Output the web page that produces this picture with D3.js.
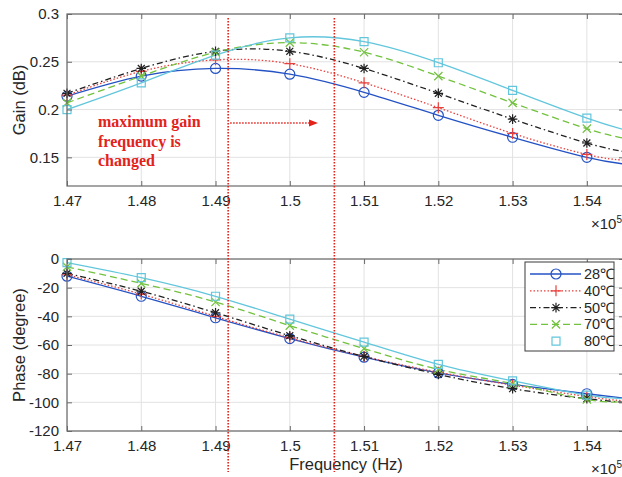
<!DOCTYPE html>
<html>
<head>
<meta charset="utf-8">
<script src="https://cdn.jsdelivr.net/npm/d3@7"></script>
<style>
  body { margin: 0; background: #fff; }
  svg { display: block; font-family: "Liberation Sans", Arial, sans-serif; }
</style>
</head>
<body>
<svg id="chart" width="622" height="477"></svg>
<script>
// frequency (x10^5 Hz) where markers sit
const freq = [1.47, 1.48, 1.49, 1.50, 1.51, 1.52, 1.53, 1.54];
// right edge of axis, lines run to here
const freqEnd = 1.545;

const temps = ["28℃", "40℃", "50℃", "70℃", "80℃"];

// gain (dB) at marker freqs, then value at the right edge
const gain28 = [0.214, 0.235, 0.243, 0.237, 0.218, 0.194, 0.171, 0.150];
const gain40 = [0.215, 0.240, 0.252, 0.248, 0.228, 0.202, 0.175, 0.153];
const gain50 = [0.217, 0.243, 0.261, 0.261, 0.243, 0.217, 0.190, 0.165];
const gain70 = [0.207, 0.235, 0.260, 0.270, 0.260, 0.235, 0.207, 0.180];
const gain80 = [0.200, 0.228, 0.257, 0.275, 0.271, 0.249, 0.220, 0.191];
const gainEnd = [0.143, 0.147, 0.156, 0.170, 0.179];

// phase (degree)
const phase28 = [-12, -26, -41, -55.5, -68.5, -79.5, -87.5, -94];
const phase40 = [-11, -24.5, -40, -55, -68, -79, -88, -96];
const phase50 = [-10, -22.5, -37.5, -53.5, -68, -80.5, -90.5, -97.5];
const phase70 = [-5.5, -17, -30, -46.5, -62.5, -77, -87, -98];
const phase80 = [-2.5, -13, -26, -42, -58, -73.5, -85, -95];
const phaseEnd = [-97, -99, -100, -99.5, -97.5];

const gainTicks = [0.15, 0.2, 0.25, 0.3];
const phaseTicks = [-120, -100, -80, -60, -40, -20, 0];
const freqTicks = [1.47, 1.48, 1.49, 1.50, 1.51, 1.52, 1.53, 1.54];

// frequencies of the two red marker lines
const markFreq = [1.4917, 1.5060];

const gainSeries = [gain28, gain40, gain50, gain70, gain80];
const phaseSeries = [phase28, phase40, phase50, phase70, phase80];

const styles = [
  { color: "#2452c4", dash: null, marker: "circle", showLine: true },
  { color: "#e8403c", dash: "1.5,2", marker: "plus", showLine: true },
  { color: "#202020", dash: "6,3,1.5,3", marker: "star", showLine: true },
  { color: "#72c23e", dash: "7,4", marker: "x", showLine: true },
  { color: "#62c6dc", dash: null, marker: "square", showLine: false }
];

const svg = d3.select("#chart");
const left = 67, right = 624;
const top1 = 14, bot1 = 186;
const top2 = 259, bot2 = 431;

const x = d3.scaleLinear().domain([1.47, freqEnd]).range([left, right]);
const yG = d3.scaleLinear().domain([0.12, 0.3]).range([bot1, top1]);
const yP = d3.scaleLinear().domain([-120, 0]).range([bot2, top2]);

const axisCol = "#6a6a6a";
const textCol = "#262626";
const gridCol = "#e2e2e2";

function markerPath(type, s) {
  const p = d3.path();
  if (type === "circle") {
    p.moveTo(s, 0); p.arc(0, 0, s, 0, 2 * Math.PI);
  } else if (type === "plus") {
    p.moveTo(-s, 0); p.lineTo(s, 0); p.moveTo(0, -s); p.lineTo(0, s);
  } else if (type === "x") {
    const k = s * 0.75;
    p.moveTo(-k, -k); p.lineTo(k, k); p.moveTo(-k, k); p.lineTo(k, -k);
  } else if (type === "star") {
    const k = s * 0.72;
    p.moveTo(-s, 0); p.lineTo(s, 0); p.moveTo(0, -s); p.lineTo(0, s);
    p.moveTo(-k, -k); p.lineTo(k, k); p.moveTo(-k, k); p.lineTo(k, -k);
  } else if (type === "square") {
    p.rect(-s * 0.8, -s * 0.8, s * 1.6, s * 1.6);
  }
  return p.toString();
}
const markerSize = { circle: 5, plus: 5.5, star: 4.8, x: 5.5, square: 5 };

function drawPanel(y, top, bot, ticks, fmt, series, ends, yLabel, clipId) {
  const g = svg.append("g");

  g.append("defs").append("clipPath").attr("id", clipId)
    .append("rect").attr("x", left).attr("y", top)
    .attr("width", right - left).attr("height", bot - top);

  // grid
  g.selectAll(".vg").data(freqTicks).enter().append("line")
    .attr("x1", d => x(d)).attr("x2", d => x(d))
    .attr("y1", top).attr("y2", bot)
    .attr("stroke", gridCol).attr("stroke-width", 1);
  g.selectAll(".hg").data(ticks).enter().append("line")
    .attr("x1", left).attr("x2", right)
    .attr("y1", d => y(d)).attr("y2", d => y(d))
    .attr("stroke", gridCol).attr("stroke-width", 1);

  const plot = g.append("g").attr("clip-path", `url(#${clipId})`);
  const line = d3.line().x(d => x(d[0])).y(d => y(d[1])).curve(d3.curveNatural);

  series.forEach((vals, i) => {
    const st = styles[i];
    const pts = freq.map((f, j) => [f, vals[j]]).concat([[freqEnd, ends[i]]]);
    plot.append("path").datum(pts)
      .attr("d", line)
      .attr("fill", "none")
      .attr("stroke", st.color)
      .attr("stroke-width", 1.3)
      .attr("stroke-dasharray", st.dash);
  });
  series.forEach((vals, i) => {
    const st = styles[i];
    g.selectAll(null).data(freq.map((f, j) => [f, vals[j]])).enter().append("path")
      .attr("transform", d => `translate(${x(d[0])},${y(d[1])})`)
      .attr("d", markerPath(st.marker, markerSize[st.marker]))
      .attr("fill", "none")
      .attr("stroke", st.color)
      .attr("stroke-width", 1.2);
  });

  // box + inward ticks
  g.append("rect").attr("x", left).attr("y", top)
    .attr("width", right - left).attr("height", bot - top)
    .attr("fill", "none").attr("stroke", axisCol).attr("stroke-width", 1.2);

  const xb = d3.axisBottom(x).tickValues(freqTicks).tickSizeInner(-5).tickSizeOuter(0)
    .tickFormat(d3.format("~g")).tickPadding(9);
  g.append("g").attr("transform", `translate(0,${bot})`).call(xb);
  const ya = d3.axisLeft(y).tickValues(ticks).tickSizeInner(-5).tickSizeOuter(0)
    .tickFormat(fmt).tickPadding(8);
  g.append("g").attr("transform", `translate(${left},0)`).call(ya);
  const yr = d3.axisRight(y).tickValues(ticks).tickSizeInner(-5).tickSizeOuter(0).tickFormat("");
  g.append("g").attr("transform", `translate(${right},0)`).call(yr);
  const xt = d3.axisTop(x).tickValues(freqTicks).tickSizeInner(-5).tickSizeOuter(0).tickFormat("");
  g.append("g").attr("transform", `translate(0,${top})`).call(xt);

  g.selectAll(".domain").remove();
  g.selectAll(".tick line").attr("stroke", axisCol);
  g.selectAll(".tick text").attr("fill", textCol).style("font-size", "15px")
    .style("font-family", "'Liberation Sans', Arial, sans-serif");

  g.append("text")
    .attr("transform", `translate(25,${(top + bot) / 2}) rotate(-90)`)
    .attr("text-anchor", "middle")
    .attr("fill", textCol).style("font-size", "16.5px")
    .text(yLabel);

  // x10^5
  const ex = g.append("text").attr("x", 591).attr("y", bot + 43)
    .attr("fill", textCol).style("font-size", "15px");
  ex.append("tspan").text("×10");
  ex.append("tspan").attr("dy", -6).style("font-size", "10px").text("5");

  return g;
}

drawPanel(yG, top1, bot1, gainTicks, d => String(d), gainSeries, gainEnd, "Gain (dB)", "c1");
drawPanel(yP, top2, bot2, phaseTicks, d => String(d).replace("\u2212", "-"), phaseSeries, phaseEnd, "Phase (degree)", "c2");

svg.append("text")
  .attr("x", 346).attr("y", 470)
  .attr("text-anchor", "middle").attr("fill", textCol)
  .style("font-size", "16.5px").text("Frequency (Hz)");

// legend
const lg = svg.append("g");
lg.append("rect").attr("x", 525).attr("y", 262).attr("width", 89).attr("height", 89)
  .attr("fill", "#fff").attr("stroke", "#3a3a3a").attr("stroke-width", 1);
temps.forEach((t, i) => {
  const st = styles[i];
  const yy = 274 + i * 16.8;
  if (st.showLine) {
    lg.append("line").attr("x1", 530).attr("x2", 581).attr("y1", yy).attr("y2", yy)
      .attr("stroke", st.color).attr("stroke-width", 1.3).attr("stroke-dasharray", st.dash);
  }
  lg.append("path").attr("transform", `translate(556,${yy})`)
    .attr("d", markerPath(st.marker, markerSize[st.marker]))
    .attr("fill", "none").attr("stroke", st.color).attr("stroke-width", 1.2);
  lg.append("text").attr("x", 584).attr("y", yy + 5)
    .attr("fill", textCol).style("font-size", "14.5px").text(t);
});

// red annotation
const red = "#e3221c";
svg.selectAll(".mark").data(markFreq).enter().append("line")
  .attr("x1", d => x(d)).attr("x2", d => x(d))
  .attr("y1", 18).attr("y2", 472)
  .attr("stroke", red).attr("stroke-width", 1.6).attr("stroke-dasharray", "1.5,1.5");

svg.append("line")
  .attr("x1", x(markFreq[0]) + 2).attr("x2", 310)
  .attr("y1", 123).attr("y2", 123)
  .attr("stroke", red).attr("stroke-width", 1.5).attr("stroke-dasharray", "1.5,1.5");
svg.append("path").attr("d", "M309,119.5 L318,123 L309,126.5 Z").attr("fill", red);

const note = svg.append("text").attr("fill", red)
  .style("font-family", "'Liberation Serif', 'Times New Roman', serif")
  .style("font-weight", "bold").style("font-size", "16px");
["maximum gain", "frequency is", "changed"].forEach((s, i) => {
  note.append("tspan").attr("x", 98).attr("y", 127 + i * 19.7).text(s);
});
</script>
</body>
</html>
